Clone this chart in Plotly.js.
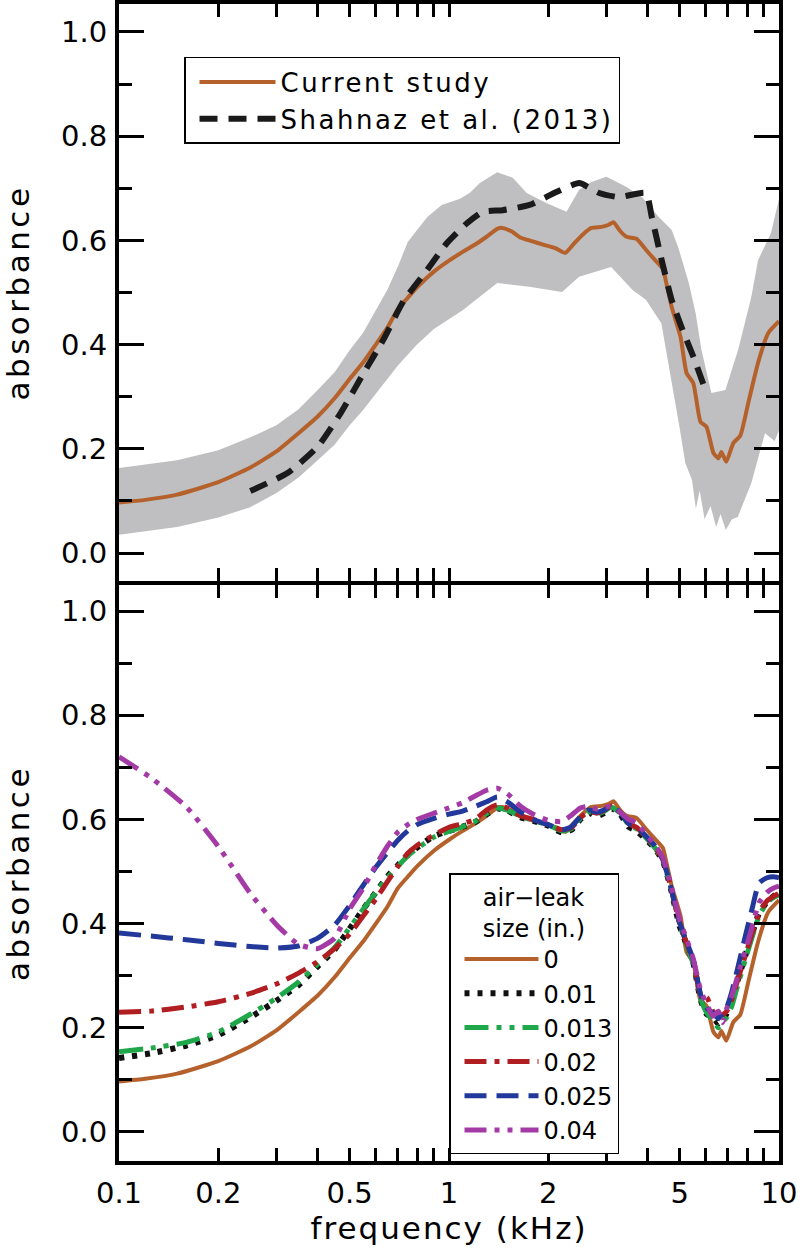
<!DOCTYPE html>
<html><head><meta charset="utf-8">
<script src="https://cdn.plot.ly/plotly-3.0.1.min.js"></script>
<style>
html,body{margin:0;padding:0;background:#fff;}
#chart{width:800px;height:1257px;}
.legendtext{letter-spacing:2.5px;}
.legendtitletext{letter-spacing:2px;}
.xtitle{letter-spacing:2px;}
.ytitle,.y2title{letter-spacing:3.5px;}
</style>
</head><body><div id="chart"></div>
<script>
// ---------- data (frequency in kHz, absorbance) ----------
const currentFreq = [0.1,0.12,0.15,0.2,0.25,0.3,0.35,0.4,0.45,0.5,0.55,0.6,0.65,0.7,0.75,0.8,0.9,1.0,1.1,1.2,1.3,1.4,1.45,1.55,1.65,1.75,1.95,2.1,2.25,2.4,2.55,2.7,2.9,3.05,3.15,3.3,3.45,3.7,3.95,4.2,4.45,4.55,4.73,5.03,5.25,5.5,5.78,6.03,6.33,6.55,6.69,6.92,7.27,7.63,8.07,8.64,9.27,10.0];
const currentAbs  = [0.097,0.102,0.112,0.136,0.164,0.195,0.230,0.262,0.297,0.334,0.366,0.400,0.432,0.468,0.490,0.510,0.540,0.561,0.578,0.592,0.607,0.622,0.624,0.617,0.605,0.600,0.591,0.585,0.576,0.595,0.612,0.624,0.626,0.630,0.635,0.618,0.607,0.603,0.582,0.563,0.545,0.520,0.472,0.415,0.345,0.326,0.252,0.242,0.192,0.182,0.194,0.175,0.211,0.225,0.288,0.365,0.422,0.445];

const bandHiFreq = [0.1,0.15,0.2,0.25,0.3,0.35,0.4,0.45,0.5,0.55,0.6,0.65,0.7,0.75,0.8,0.86,0.95,1.08,1.16,1.24,1.4,1.56,1.72,1.97,2.27,2.48,2.7,3.0,3.44,3.85,4.32,4.73,4.96,5.32,5.59,5.82,6.24,6.6,6.88,7.52,8.24,8.64,9.46,10.0];
const bandHiAbs  = [0.163,0.178,0.197,0.222,0.245,0.276,0.313,0.347,0.389,0.423,0.466,0.505,0.55,0.597,0.62,0.645,0.668,0.68,0.692,0.71,0.731,0.72,0.691,0.672,0.655,0.697,0.712,0.722,0.703,0.683,0.645,0.62,0.585,0.52,0.46,0.39,0.307,0.31,0.313,0.39,0.491,0.562,0.614,0.68];
const bandLoFreq = [0.1,0.15,0.2,0.25,0.3,0.35,0.4,0.45,0.5,0.55,0.6,0.7,0.8,0.9,1.1,1.4,1.75,2.2,2.48,3.1,3.6,3.95,4.4,4.73,5.0,5.2,5.45,5.6,5.75,5.95,6.2,6.45,6.65,6.9,7.2,7.5,8.24,9.07,9.7,10.0];
const bandLoAbs  = [0.035,0.05,0.068,0.088,0.115,0.145,0.178,0.208,0.245,0.275,0.306,0.36,0.40,0.43,0.466,0.518,0.511,0.501,0.53,0.549,0.505,0.486,0.441,0.326,0.24,0.173,0.14,0.085,0.12,0.065,0.09,0.05,0.075,0.044,0.065,0.069,0.134,0.23,0.215,0.235];

const shahFreq = [0.25,0.325,0.4,0.47,0.551,0.632,0.727,0.858,0.986,1.133,1.266,1.455,1.754,2.115,2.481,2.85,3.274,3.948,4.116,4.411,4.728,5.06,5.508,6.03];
const shahAbs  = [0.119,0.154,0.204,0.269,0.345,0.409,0.483,0.543,0.595,0.633,0.655,0.658,0.668,0.693,0.71,0.691,0.683,0.691,0.645,0.562,0.486,0.434,0.376,0.307];

const leakFreq = [0.1,0.125,0.16,0.2,0.25,0.3,0.35,0.4,0.45,0.5,0.55,0.6,0.65,0.7,0.75,0.8,0.9,1.0,1.1,1.2,1.3,1.4,1.5,1.65,1.8,2.0,2.2,2.35,2.5,2.65,2.8,2.95,3.1,3.3,3.5,3.7,3.95,4.2,4.45,4.7,5.0,5.25,5.5,5.8,6.05,6.3,6.55,6.75,6.95,7.2,7.5,7.9,8.3,8.7,9.2,9.6,10.0];
const leak010 = [0.142,0.151,0.166,0.186,0.220,0.252,0.282,0.318,0.350,0.390,0.428,0.460,0.490,0.512,0.532,0.546,0.568,0.578,0.586,0.595,0.610,0.621,0.617,0.604,0.597,0.588,0.575,0.580,0.600,0.613,0.606,0.612,0.622,0.610,0.586,0.578,0.562,0.545,0.520,0.468,0.395,0.360,0.325,0.252,0.226,0.222,0.208,0.216,0.228,0.252,0.292,0.338,0.382,0.420,0.442,0.452,0.460];
const leak013 = [0.154,0.161,0.172,0.192,0.226,0.257,0.288,0.322,0.354,0.392,0.428,0.460,0.488,0.510,0.530,0.544,0.566,0.577,0.586,0.596,0.611,0.622,0.618,0.606,0.598,0.589,0.578,0.582,0.602,0.615,0.610,0.615,0.624,0.612,0.590,0.582,0.565,0.546,0.520,0.470,0.398,0.358,0.322,0.255,0.228,0.215,0.200,0.212,0.220,0.242,0.282,0.330,0.375,0.415,0.440,0.450,0.455];
const leak020 = [0.230,0.232,0.240,0.250,0.266,0.284,0.305,0.327,0.352,0.380,0.415,0.447,0.480,0.510,0.535,0.550,0.570,0.585,0.592,0.600,0.618,0.628,0.622,0.607,0.600,0.590,0.580,0.584,0.603,0.615,0.612,0.617,0.626,0.614,0.592,0.585,0.566,0.548,0.522,0.470,0.400,0.362,0.328,0.262,0.258,0.232,0.222,0.225,0.232,0.255,0.292,0.338,0.382,0.420,0.444,0.452,0.458];
const leak025 = [0.382,0.376,0.369,0.362,0.356,0.353,0.357,0.372,0.397,0.435,0.474,0.508,0.536,0.560,0.578,0.590,0.602,0.610,0.616,0.625,0.634,0.643,0.634,0.614,0.600,0.590,0.580,0.586,0.605,0.618,0.614,0.618,0.625,0.614,0.592,0.586,0.568,0.550,0.523,0.470,0.402,0.365,0.330,0.262,0.238,0.228,0.218,0.228,0.240,0.270,0.315,0.375,0.430,0.478,0.488,0.490,0.488];
const leak040 = [0.720,0.680,0.624,0.548,0.458,0.398,0.360,0.352,0.372,0.428,0.468,0.512,0.548,0.576,0.590,0.600,0.612,0.622,0.632,0.645,0.656,0.660,0.650,0.625,0.610,0.598,0.596,0.608,0.622,0.625,0.620,0.622,0.626,0.614,0.600,0.594,0.572,0.552,0.526,0.475,0.408,0.370,0.332,0.270,0.245,0.222,0.232,0.210,0.238,0.262,0.300,0.348,0.395,0.440,0.460,0.468,0.472];

const xTickVals = [0.1,0.2,0.3,0.4,0.5,0.6,0.7,0.8,0.9,1,2,3,4,5,6,7,8,9,10];
const xTickText = ['0.1','0.2','','','0.5','','','','','1','2','','','5','','','','','10'];
const leakNames = ['0','0.01','0.013','0.02','0.025','0.04'];

// ---------- styles ----------
const FONT = 'DejaVu Sans, sans-serif';
const ORANGE = '#B5612C';
const smooth = {shape:'spline', smoothing:0.5};

const traces = [
  {x: bandHiFreq.concat(bandLoFreq.slice().reverse()), y: bandHiAbs.concat(bandLoAbs.slice().reverse()),
   xaxis:'x2', yaxis:'y2', type:'scatter', mode:'lines', fill:'toself', fillcolor:'#BFBFC1',
   line:{width:0, color:'#BFBFC1'}, showlegend:false, hoverinfo:'skip'},
  {x: currentFreq, y: currentAbs, xaxis:'x2', yaxis:'y2', type:'scatter', mode:'lines',
   name:'Current study', legend:'legend', line:Object.assign({color:ORANGE, width:4}, smooth)},
  {x: shahFreq, y: shahAbs, xaxis:'x2', yaxis:'y2', type:'scatter', mode:'lines',
   name:'Shahnaz et al. (2013)', legend:'legend', line:Object.assign({color:'#1a1a1a', width:6, dash:'18px,11px'}, smooth)},

  {x: currentFreq, y: currentAbs, xaxis:'x', yaxis:'y', type:'scatter', mode:'lines', name:leakNames[0], legend:'legend2',
   line:Object.assign({color:ORANGE, width:4}, smooth)},
  {x: leakFreq, y: leak010, xaxis:'x', yaxis:'y', type:'scatter', mode:'lines', name:leakNames[1], legend:'legend2',
   line:Object.assign({color:'#111111', width:6, dash:'5px,8px'}, smooth)},
  {x: leakFreq, y: leak013, xaxis:'x', yaxis:'y', type:'scatter', mode:'lines', name:leakNames[2], legend:'legend2',
   line:Object.assign({color:'#1EA84A', width:5, dash:'24px,8px,5px,8px,5px,8px'}, smooth)},
  {x: leakFreq, y: leak020, xaxis:'x', yaxis:'y', type:'scatter', mode:'lines', name:leakNames[3], legend:'legend2',
   line:Object.assign({color:'#B01E22', width:5, dash:'22px,8px,5px,8px'}, smooth)},
  {x: leakFreq, y: leak025, xaxis:'x', yaxis:'y', type:'scatter', mode:'lines', name:leakNames[4], legend:'legend2',
   line:Object.assign({color:'#22389A', width:5, dash:'22px,10px'}, smooth)},
  {x: leakFreq, y: leak040, xaxis:'x', yaxis:'y', type:'scatter', mode:'lines', name:leakNames[5], legend:'legend2',
   line:Object.assign({color:'#A43AA6', width:5, dash:'22px,8px,5px,8px,5px,8px'}, smooth)}
];

const commonX = {
  type:'log', range:[-1, 1], showline:true, linewidth:4, linecolor:'#000', mirror:'ticks',
  ticks:'inside', ticklen:13, tickwidth:3, tickcolor:'#000', showgrid:false, zeroline:false,
  tickmode:'array', tickvals:xTickVals, ticktext:xTickText,
  tickfont:{family:FONT, size:29, color:'#000'}, ticklabelstandoff:3
};
const longTickX = {
  type:'log', range:[-1, 1], showline:true, linewidth:4, linecolor:'#000', mirror:'ticks',
  ticks:'inside', ticklen:24, tickwidth:3, tickcolor:'#000', showgrid:false, zeroline:false,
  tickmode:'array', tickvals:[1], showticklabels:false
};
const commonY = {
  showline:true, linewidth:4, linecolor:'#000', mirror:'ticks',
  ticks:'inside', ticklen:25, tickwidth:3, tickcolor:'#000', showgrid:false, zeroline:false,
  tick0:0, dtick:0.2, tickformat:'.1f',
  minor:{tick0:0, dtick:0.1, ticklen:13, tickwidth:3, tickcolor:'#000', ticks:'inside', showgrid:false},
  tickfont:{family:FONT, size:29, color:'#000'}, ticklabelstandoff:2,
  title:{text:'absorbance', standoff:36, font:{family:FONT, size:31, color:'#000'}}
};

const layout = {
  width:800, height:1257,
  margin:{l:119, r:21, t:4, b:96},
  paper_bgcolor:'#fff', plot_bgcolor:'#fff',
  font:{family:FONT, color:'#000', size:26},
  showlegend:true,
  xaxis: Object.assign({}, commonX, {anchor:'y', domain:[0,1],
    title:{text:'frequency (kHz)', standoff:8, font:{family:FONT, size:31, color:'#000'}}}),
  xaxis2: Object.assign({}, commonX, {anchor:'y2', domain:[0,1], showticklabels:false}),
  xaxis3: Object.assign({}, longTickX, {overlaying:'x', anchor:'y'}),
  xaxis4: Object.assign({}, longTickX, {overlaying:'x2', anchor:'y2'}),
  yaxis: Object.assign({}, commonY, {domain:[0, 0.4978], range:[-0.0557, 1.0499]}),
  yaxis2: Object.assign({}, commonY, {domain:[0.5013, 1], range:[-0.0537, 1.0537]}),
  legend:{x:0.0985, xanchor:'left', y:0.9542, yanchor:'top', bgcolor:'#fff', bordercolor:'#000', borderwidth:1.5,
    font:{family:FONT, size:26, color:'#000'}, itemwidth:76, indentation:9, tracegroupgap:0},
  legend2:{x:0.5, xanchor:'left', y:0.2489, yanchor:'top', bgcolor:'#fff', bordercolor:'#000', borderwidth:1.5,
    font:{family:FONT, size:24, color:'#000'}, itemwidth:74, indentation:9, tracegroupgap:0,
    title:{text:'air\u2212leak<br>size (in.)', side:'top center', font:{family:FONT, size:24, color:'#000'}}}
};

Plotly.newPlot('chart', traces, layout, {displayModeBar:false, staticPlot:true});
</script></body></html>
